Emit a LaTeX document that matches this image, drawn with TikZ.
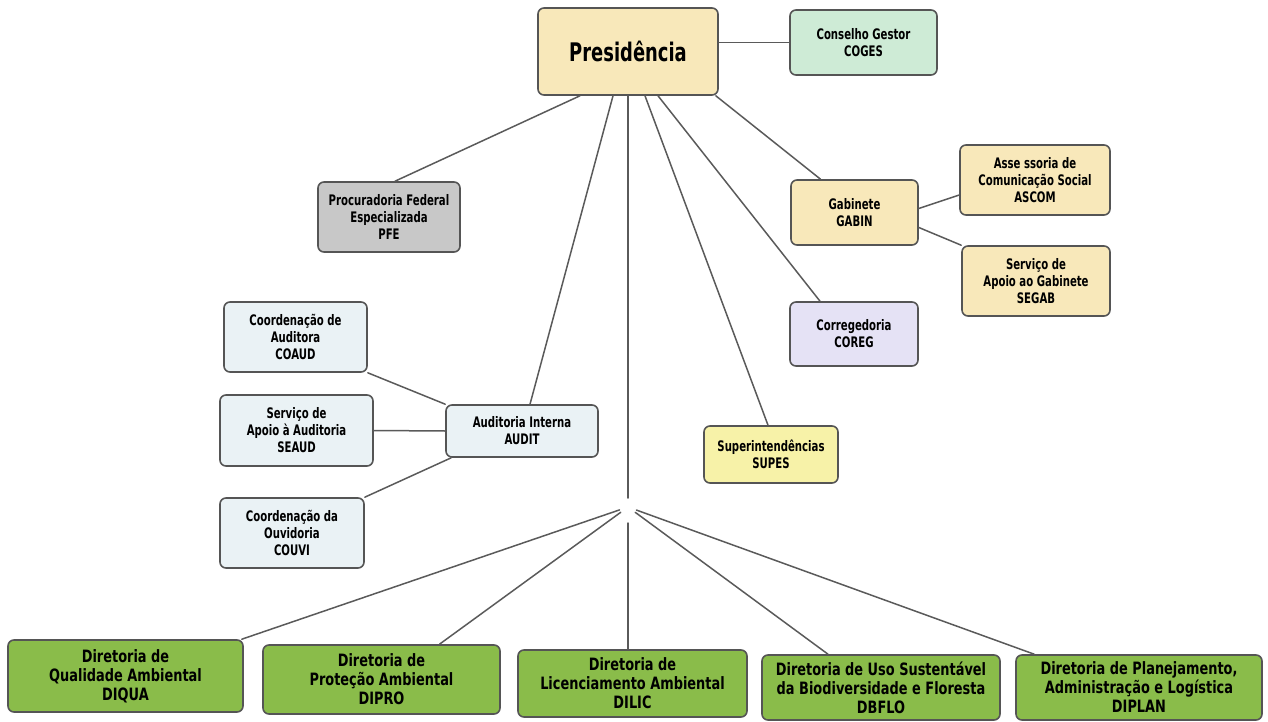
\documentclass[tikz,border=0pt]{standalone}
\usepackage{fontspec}
\setmainfont{DejaVu Sans}[FakeStretch=0.70]
\newfontfamily\dirfont{DejaVu Sans}[FakeStretch=0.76]
\usepackage{tikz}
\definecolor{BoxLine}{RGB}{85,85,85}
\definecolor{LinkGray}{RGB}{90,90,90}
\definecolor{PresTan}{RGB}{248,232,186}
\definecolor{CogesGreen}{RGB}{206,235,214}
\definecolor{PfeGray}{RGB}{200,200,200}
\definecolor{CoregLilac}{RGB}{229,226,245}
\definecolor{AuditBlue}{RGB}{234,242,245}
\definecolor{SupesYellow}{RGB}{247,242,168}
\definecolor{DirGreen}{RGB}{138,188,74}

\begin{document}
\begin{tikzpicture}[line cap=round,line join=round,x=1pt,y=-1pt,
  box/.style={draw=BoxLine,line width=1.6pt,rounded corners=6pt,align=center,
    inner sep=0pt,font=\bfseries\fontsize{14.5}{17}\selectfont},
  dirbox/.style={box,fill=DirGreen,font=\dirfont\bfseries\fontsize{17}{19}\selectfont},
  link/.style={draw=LinkGray,line width=1.5pt}]
  \useasboundingbox (0,0) rectangle (1268,722);
  \node[box,fill=PresTan,minimum width=180pt,minimum height=87pt,
    font=\bfseries\fontsize{25.6}{27}\selectfont] (pres) at (628,51.5) {Presidência};
  \node[box,fill=CogesGreen,minimum width=147pt,minimum height=65pt] (coges) at (863.5,42.5) {Conselho Gestor\\COGES};
  \node[box,fill=PfeGray,minimum width=142pt,minimum height=70pt] (pfe) at (389,217) {Procuradoria Federal\\Especializada\\PFE};
  \node[box,fill=PresTan,minimum width=127pt,minimum height=65pt] (gabin) at (854.5,212.5) {Gabinete\\GABIN};
  \node[box,fill=PresTan,minimum width=150pt,minimum height=70pt] (ascom) at (1035,180) {Asse ssoria de\\Comunicação Social\\ASCOM};
  \node[box,fill=PresTan,minimum width=148pt,minimum height=70pt] (segab) at (1036,281) {Serviço de\\Apoio ao Gabinete\\SEGAB};
  \node[box,fill=CoregLilac,minimum width=128pt,minimum height=64pt] (coreg) at (854,334) {Corregedoria\\COREG};
  \node[box,fill=AuditBlue,minimum width=143pt,minimum height=70pt] (coaud) at (295.5,337) {Coordenação de\\Auditora\\COAUD};
  \node[box,fill=AuditBlue,minimum width=153pt,minimum height=71pt] (seaud) at (296.5,430.5) {Serviço de\\Apoio à Auditoria\\SEAUD};
  \node[box,fill=AuditBlue,minimum width=152pt,minimum height=52pt] (audit) at (522,431) {Auditoria Interna\\AUDIT};
  \node[box,fill=AuditBlue,minimum width=144pt,minimum height=70pt] (couvi) at (292,533) {Coordenação da\\Ouvidoria\\COUVI};
  \node[box,fill=SupesYellow,minimum width=134pt,minimum height=57pt] (supes) at (771,454.5) {Superintendências\\SUPES};
  \node[dirbox,minimum width=235pt,minimum height=72pt] (diqua) at (125.5,676) {Diretoria de\\Qualidade Ambiental\\DIQUA};
  \node[dirbox,minimum width=237pt,minimum height=69pt] (dipro) at (381.5,679.5) {Diretoria de\\Proteção Ambiental\\DIPRO};
  \node[dirbox,minimum width=229pt,minimum height=67pt] (dilic) at (632.5,683.5) {Diretoria de\\Licenciamento Ambiental\\DILIC};
  \node[dirbox,minimum width=238pt,minimum height=65pt] (dbflo) at (881,687.5) {Diretoria de Uso Sustentável\\da Biodiversidade e Floresta\\DBFLO};
  \node[dirbox,minimum width=246pt,minimum height=65pt] (diplan) at (1139,687.5) {Diretoria de Planejamento,\\Administração e Logística\\DIPLAN};
  \coordinate (hub) at (628,507);

  \draw[link] (coges.west -| pres.east) -- (coges.west);
  \draw[link] ([xshift=-48pt]pres.south) -- ([xshift=6pt]pfe.north);
  \draw[link] ([xshift=-15pt]pres.south) -- ([xshift=8pt]audit.north);
  \draw[link,shorten >=9pt] (pres.south) -- (hub);
  \draw[link] ([xshift=17pt]pres.south) -- ([xshift=-3pt]supes.north);
  \draw[link] ([xshift=30pt]pres.south) -- ([xshift=-34pt]coreg.north);
  \draw[link] ([xshift=-3pt]pres.south east) -- ([xshift=-34pt]gabin.north);
  \draw[link] ([yshift=4pt]gabin.east) -- ([yshift=-15pt]ascom.west);
  \draw[link] ([yshift=-15pt]gabin.east) -- (segab.north west);
  \draw[link] (coaud.south east) -- (audit.north west);
  \draw[link] (seaud.east) -- (audit.west);
  \draw[link] (couvi.north east) -- ([xshift=6pt]audit.south west);
  \draw[link,shorten <=9pt] (hub) -- ([xshift=-2pt]diqua.north east);
  \draw[link,shorten <=9pt] (hub) -- ([xshift=58pt]dipro.north);
  \draw[link,shorten <=16pt] (hub) -- (hub |- dilic.north);
  \draw[link,shorten <=9pt] (hub) -- ([xshift=-53pt]dbflo.north);
  \draw[link,shorten <=9pt] (hub) -- ([xshift=19pt]diplan.north west);
\end{tikzpicture}
\end{document}
